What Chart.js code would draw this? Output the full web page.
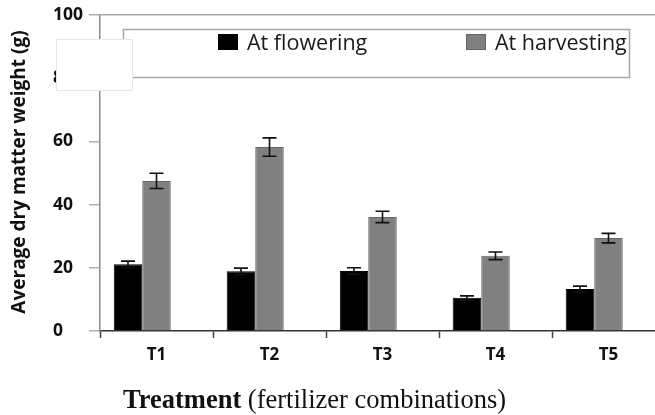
<!DOCTYPE html>
<html>
<head>
<meta charset="utf-8">
<script src="https://cdn.jsdelivr.net/npm/chart.js@4.4.0/dist/chart.umd.min.js"></script>
<style>
html, body { margin: 0; padding: 0; overflow: hidden; background: #fff; }
#wrap { width: 670px; height: 415px; }
</style>
</head>
<body>
<div id="wrap"><canvas id="dryMatterChart"></canvas></div>
<script>
var treatments = ["T1", "T2", "T3", "T4", "T5"];
var atFlowering = [21.1, 18.9, 19.0, 10.5, 13.3];
var atFloweringErr = [1.0, 1.0, 1.0, 0.6, 0.9];
var atHarvesting = [47.5, 58.2, 36.1, 23.8, 29.4];
var atHarvestingErr = [2.4, 2.9, 1.8, 1.2, 1.5];
var yTicks = [0, 20, 40, 60, 80, 100];

var chart;

// error bars, drawn on top of each bar
var errorBars = {
    id: 'errorBars',
    afterDatasetsDraw: function (c) {
        var ctx = c.ctx;
        var yScale = c.scales.y;
        var errs = [atFloweringErr, atHarvestingErr];
        for (var d = 0; d < errs.length; d++) {
            var meta = c.getDatasetMeta(d);
            var vals = c.data.datasets[d].data;
            for (var i = 0; i < meta.data.length; i++) {
                var bar = meta.data[i];
                var top = yScale.getPixelForValue(vals[i] + errs[d][i]);
                var bot = yScale.getPixelForValue(vals[i] - errs[d][i]);
                ctx.save();
                ctx.strokeStyle = '#111';
                ctx.lineWidth = 1.6;
                ctx.beginPath();
                ctx.moveTo(bar.x, top);
                ctx.lineTo(bar.x, bot);
                ctx.moveTo(bar.x - 7, top);
                ctx.lineTo(bar.x + 7, top);
                ctx.moveTo(bar.x - 7, bot);
                ctx.lineTo(bar.x + 7, bot);
                ctx.stroke();
                ctx.restore();
            }
        }
    }
};

// legend frame, legend items, the blank patch and the axis titles
var decorations = {
    id: 'decorations',
    afterDraw: function (c) {
        var ctx = c.ctx;
        var area = c.chartArea;
        ctx.save();

        // legend frame
        ctx.strokeStyle = '#a6a6a6';
        ctx.lineWidth = 1.5;
        ctx.strokeRect(123.5, 29.5, 506, 48);

        // legend items
        var itemX = [218, 466];
        ctx.font = '21.5px "Open Sans"';
        ctx.textBaseline = 'alphabetic';
        ctx.textAlign = 'left';
        for (var i = 0; i < 2; i++) {
            var ds = c.data.datasets[i];
            ctx.fillStyle = ds.backgroundColor;
            ctx.fillRect(itemX[i], 34, 20, 16);
            ctx.strokeStyle = ds.borderColor;
            ctx.lineWidth = 1;
            ctx.strokeRect(itemX[i] + 0.5, 34.5, 19, 15);
            ctx.fillStyle = '#1a1a1a';
            ctx.fillText(ds.label, itemX[i] + 29, 50);
        }

        // blank patch over the 80 label
        ctx.fillStyle = '#fff';
        ctx.fillRect(56, 39, 77, 52);
        ctx.strokeStyle = '#e6e6e6';
        ctx.lineWidth = 1;
        ctx.strokeRect(56.5, 39.5, 76, 51);

        // y title
        ctx.save();
        ctx.translate(20, (area.top + area.bottom) / 2 - 1);
        ctx.rotate(-Math.PI / 2);
        ctx.font = 'bold 19px "Open Sans"';
        ctx.fillStyle = '#111';
        ctx.textAlign = 'center';
        ctx.textBaseline = 'middle';
        ctx.fillText('Average dry matter weight (g)', 0, 0);
        ctx.restore();

        // x title, bold word then regular
        ctx.fillStyle = '#111';
        ctx.textAlign = 'left';
        ctx.textBaseline = 'alphabetic';
        ctx.font = 'bold 26.5px "Liberation Serif"';
        var part1 = 'Treatment';
        ctx.fillText(part1, 123, 408);
        var w = ctx.measureText(part1).width;
        ctx.font = '26.5px "Liberation Serif"';
        ctx.fillText(' (fertilizer combinations)', 123 + w, 408);

        ctx.restore();
    }
};

function setUpChart() {
    var ctx = document.getElementById("dryMatterChart").getContext('2d');
    chart = new Chart(ctx, {
        type: 'bar',
        data: {
            labels: treatments,
            datasets: [{
                label: 'At flowering',
                data: atFlowering,
                backgroundColor: '#000000',
                borderColor: '#000000',
                borderWidth: 1
            }, {
                label: 'At harvesting',
                data: atHarvesting,
                backgroundColor: '#808080',
                borderColor: '#666666',
                borderWidth: 1
            }, {
                // empty slot, keeps the pair left of the category centre
                label: '',
                data: [null, null, null, null, null],
                backgroundColor: 'rgba(0,0,0,0)'
            }]
        },
        options: {
            responsive: true,
            maintainAspectRatio: false,
            animation: false,
            devicePixelRatio: 1,
            categoryPercentage: 0.757,
            barPercentage: 1,
            layout: {
                padding: { left: 53, top: 15, right: 5, bottom: 0 }
            },
            plugins: {
                legend: { display: false },
                tooltip: { enabled: false }
            },
            scales: {
                x: {
                    offset: true,
                    border: { color: '#333', width: 1.5 },
                    grid: {
                        offset: true,
                        drawOnChartArea: false,
                        drawTicks: true,
                        tickLength: 7,
                        tickColor: '#444',
                        tickWidth: 1.5
                    },
                    ticks: {
                        color: '#111',
                        font: { family: 'Open Sans', size: 17, weight: 'bold' },
                        padding: 7
                    },
                    afterFit: function (scale) {
                        scale.height = 84;
                    }
                },
                y: {
                    min: 0,
                    max: 100,
                    border: { color: '#8c8c8c', width: 1.5 },
                    grid: {
                        drawOnChartArea: true,
                        color: function (c) {
                            return c.tick && c.tick.value === 100 ? '#a6a6a6' : 'rgba(0,0,0,0)';
                        },
                        tickColor: '#b0b0b0',
                        tickLength: 11,
                        lineWidth: 1.5
                    },
                    ticks: {
                        color: '#111',
                        crossAlign: 'far',
                        font: { family: 'Open Sans', size: 17.5, weight: 'bold' }
                    },
                    afterBuildTicks: function (scale) {
                        scale.ticks = yTicks.map(function (v) { return { value: v }; });
                    },
                    afterFit: function (scale) {
                        scale.width = 47;
                    }
                }
            }
        },
        plugins: [errorBars, decorations]
    });
}

setUpChart();
</script>
</body>
</html>
